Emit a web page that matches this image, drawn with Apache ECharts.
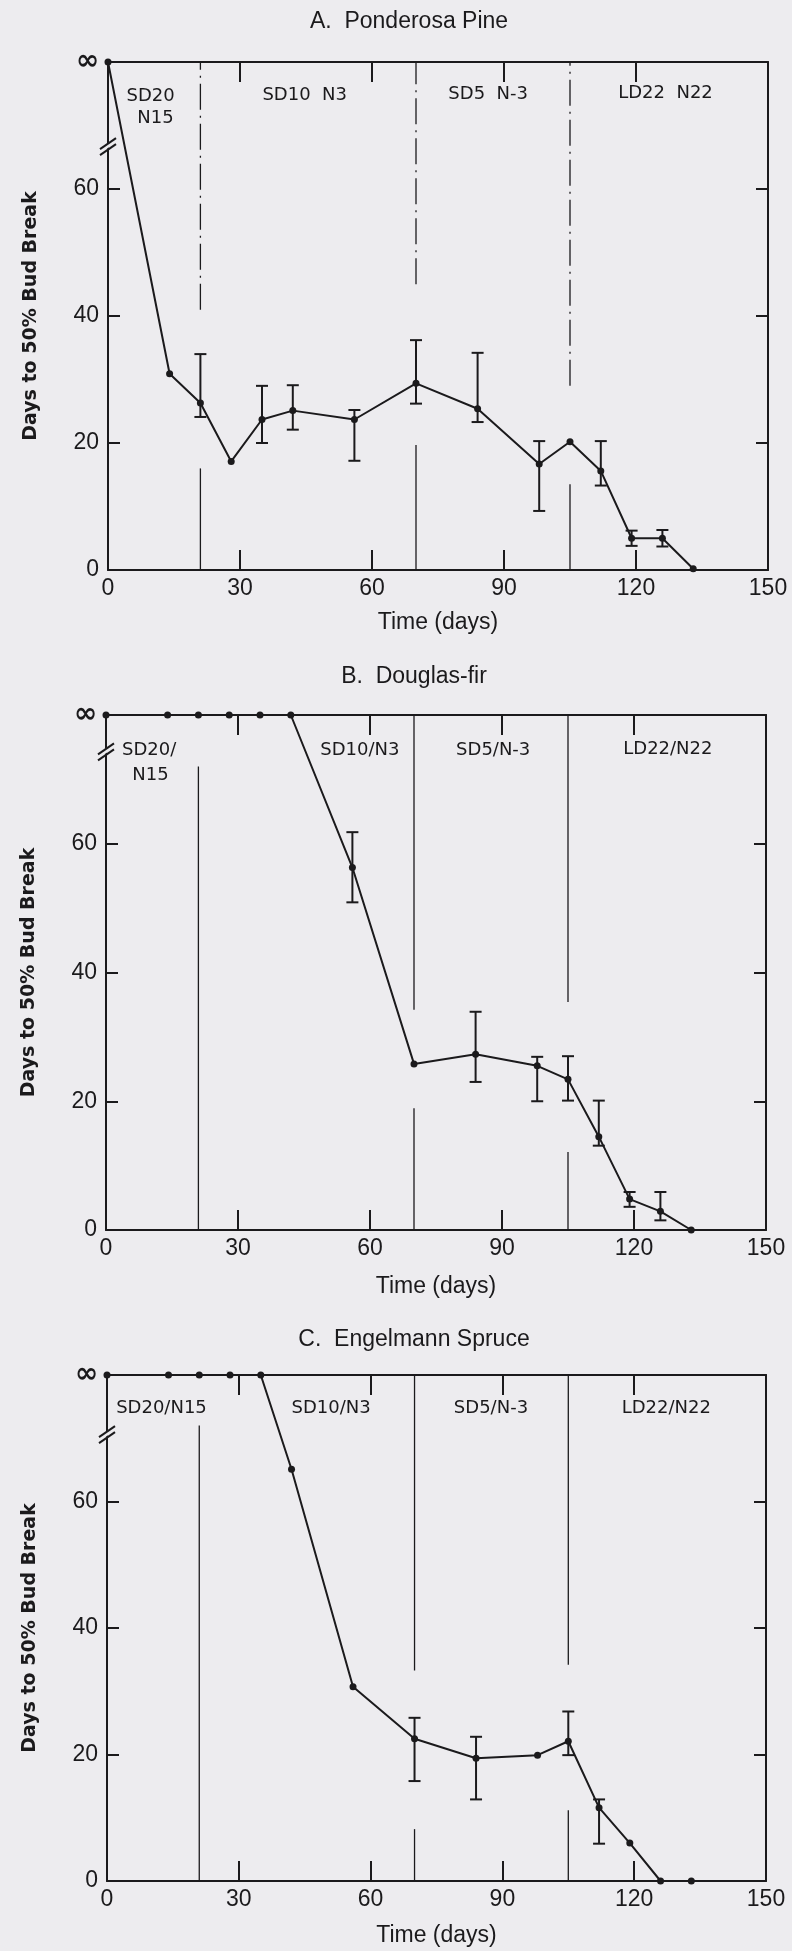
<!DOCTYPE html>
<html>
<head>
<meta charset="utf-8">
<title>Days to 50% bud break</title>
<script src="https://cdn.jsdelivr.net/npm/echarts@6/dist/echarts.min.js"></script>
<style>
  html, body { margin: 0; padding: 0; background: #edecef; }
  #chart { width: 792px; height: 1951px; }
</style>
</head>
<body>
<div id="chart"></div>
<script>
// "infinity" row at the top of each panel (no bud break)
var INF = 80;

var days = [0, 14, 21, 28, 35, 42, 56, 70, 84, 98, 105, 112, 119, 126, 133];
var xTicks = [0, 30, 60, 90, 120, 150];
var yTicks = [0, 20, 40, 60];

// A. Ponderosa Pine
var pineVals = [INF, 30.9, 26.3, 17.1, 23.7, 25.1, 23.7, 29.4, 25.4, 16.7, 20.2, 15.6, 5.0, 5.0, 0.2];
var pineLow  = [null, null, 24.1, null, 20.0, 22.1, 17.2, 26.2, 23.3, 9.3, null, 13.3, 3.8, 3.7, null];
var pineHigh = [null, null, 34.0, null, 29.0, 29.1, 25.2, 36.2, 34.2, 20.3, null, 20.3, 6.2, 6.3, null];

// B. Douglas-fir
var firVals = [INF, INF, INF, INF, INF, INF, 56.3, 25.8, 27.3, 25.5, 23.4, 14.5, 4.8, 2.9, 0];
var firLow  = [null, null, null, null, null, null, 50.9, null, 23.0, 20.0, 20.1, 13.1, 3.6, 1.5, null];
var firHigh = [null, null, null, null, null, null, 61.8, null, 33.9, 26.9, 27.0, 20.1, 5.9, 5.9, null];

// C. Engelmann Spruce
var spruceVals = [INF, INF, INF, INF, INF, 65.1, 30.7, 22.5, 19.4, 19.9, 22.1, 11.6, 6.0, 0, 0];
var spruceLow  = [null, null, null, null, null, null, null, 15.8, 12.9, null, 19.9, 5.9, null, null, null];
var spruceHigh = [null, null, null, null, null, null, null, 25.8, 22.8, null, 26.8, 12.9, null, null, null];

// treatment periods
var periodsA = ['SD20', 'N15', 'SD10  N3', 'SD5  N-3', 'LD22  N22'];
var periodsB = ['SD20/', 'N15', 'SD10/N3', 'SD5/N-3', 'LD22/N22'];
var periodsC = ['SD20/N15', 'SD10/N3', 'SD5/N-3', 'LD22/N22'];
var periodStarts = [21, 70, 105];

var titles = ['A.  Ponderosa Pine', 'B.  Douglas-fir', 'C.  Engelmann Spruce'];

// ---- layout (not data) ----
var INK = '#1b1a1c';
var BG = '#edecef';
var panels = [
  { title: titles[0], vals: pineVals, low: pineLow, high: pineHigh, labels: periodsA,
    grid: { left: 108, top: 62, width: 660, height: 508 }, titleXY: [409, 22], nameGap: 41,
    labelPos: [[9.7, 74.6], [10.8, 71.1], [44.7, 74.8], [86.4, 74.9], [126.7, 75.0]],
    breakAt: 66.6,
    // [index in periodStarts, from, to, dashed]
    dividers: [[0, 41, 80, true], [0, 0, 16, false], [1, 45, 80, true], [1, 0, 19.7, false],
               [2, 29, 80, true], [2, 0, 13.5, false]] },
  { title: titles[1], vals: firVals, low: firLow, high: firHigh, labels: periodsB,
    grid: { left: 106, top: 715, width: 660, height: 515 }, titleXY: [414, 677], nameGap: 45,
    labelPos: [[9.8, 74.5], [10.1, 70.7], [57.7, 74.5], [88, 74.5], [127.7, 74.7]],
    breakAt: 74.2,
    dividers: [[0, 0, 72, false], [1, 34.2, 80, false], [1, 0, 18.9, false],
               [2, 35.4, 80, false], [2, 0, 12.1, false]] },
  { title: titles[2], vals: spruceVals, low: spruceLow, high: spruceHigh, labels: periodsC,
    grid: { left: 107, top: 1375, width: 659, height: 506 }, titleXY: [414, 1340], nameGap: 43,
    labelPos: [[12.4, 74.8], [51, 74.8], [87.4, 74.8], [127.3, 74.8]],
    breakAt: 70.5,
    dividers: [[0, 0, 72, false], [1, 33.3, 80, false], [1, 0, 8.2, false],
               [2, 34.2, 80, false], [2, 0, 11.2, false]] }
];

var chart = echarts.init(document.getElementById('chart'));

var grids = [], xAxes = [], yAxes = [], series = [], graphics = [];

var tickFont = { fontFamily: 'Liberation Sans', fontSize: 23, color: INK };

panels.forEach(function (p, i) {
  grids.push(Object.assign({ containLabel: false }, p.grid));

  var xBase = {
    gridIndex: i, type: 'value', min: xTicks[0], max: xTicks[xTicks.length - 1],
    interval: xTicks[1] - xTicks[0],
    axisLine: { onZero: false, lineStyle: { color: INK, width: 2 } },
    axisTick: { inside: true, length: 20, lineStyle: { color: INK, width: 2 } },
    splitLine: { show: false }
  };
  xAxes.push(Object.assign({}, xBase, {
    position: 'bottom',
    axisLabel: Object.assign({ margin: 7 }, tickFont),
    name: 'Time (days)', nameLocation: 'middle', nameGap: p.nameGap,
    nameTextStyle: { fontFamily: 'Liberation Sans', fontSize: 23, color: INK }
  }));
  xAxes.push(Object.assign({}, xBase, { position: 'top', axisLabel: { show: false } }));

  var yBase = {
    gridIndex: i, type: 'value', min: 0, max: INF, interval: yTicks[1] - yTicks[0],
    axisLine: { onZero: false, lineStyle: { color: INK, width: 2 } },
    axisTick: { inside: true, length: 12, lineStyle: { color: INK, width: 2 } },
    splitLine: { show: false }
  };
  yAxes.push(Object.assign({}, yBase, {
    position: 'left',
    axisLabel: Object.assign({
      margin: 9,
      formatter: function (v) { return v === INF ? '{inf|∞}' : String(v); },
      rich: { inf: { fontFamily: 'DejaVu Sans', fontWeight: 'bold', fontSize: 28, color: INK } }
    }, tickFont),
    name: 'Days to 50% Bud Break', nameLocation: 'middle', nameGap: 67,
    nameTextStyle: { fontFamily: 'DejaVu Sans', fontWeight: 'bold', fontSize: 19, color: INK }
  }));
  yAxes.push(Object.assign({}, yBase, { position: 'right', axisLabel: { show: false } }));

  var xi = 2 * i, yi = 2 * i;

  // period divider lines
  [true, false].forEach(function (dashed) {
    series.push({
      type: 'custom', xAxisIndex: xi, yAxisIndex: yi, silent: true, z: 1,
      data: p.dividers.filter(function (d) { return d[3] === dashed; })
        .map(function (d) { return [periodStarts[d[0]], d[1], d[2]]; }),
      renderItem: function (params, api) {
        var a = api.coord([api.value(0), api.value(1)]);
        var b = api.coord([api.value(0), api.value(2)]);
        return { type: 'line', shape: { x1: a[0], y1: a[1], x2: b[0], y2: b[1] },
          style: { stroke: INK, lineWidth: 1.3, lineDash: dashed ? [26, 6, 2, 6] : null } };
      }
    });
  });

  // error bars
  var errData = [];
  days.forEach(function (d, k) {
    if (p.low[k] != null) errData.push([d, p.low[k], p.high[k]]);
  });
  series.push({
    type: 'custom', xAxisIndex: xi, yAxisIndex: yi, silent: true, z: 2,
    data: errData,
    renderItem: function (params, api) {
      var lo = api.coord([api.value(0), api.value(1)]);
      var hi = api.coord([api.value(0), api.value(2)]);
      var w = 6, st = { stroke: INK, lineWidth: 2 };
      return { type: 'group', children: [
        { type: 'line', shape: { x1: lo[0], y1: lo[1], x2: hi[0], y2: hi[1] }, style: st },
        { type: 'line', shape: { x1: lo[0] - w, y1: lo[1], x2: lo[0] + w, y2: lo[1] }, style: st },
        { type: 'line', shape: { x1: hi[0] - w, y1: hi[1], x2: hi[0] + w, y2: hi[1] }, style: st }
      ] };
    }
  });

  // mean days to bud break
  series.push({
    type: 'line', xAxisIndex: xi, yAxisIndex: yi, z: 3,
    data: days.map(function (d, k) { return [d, p.vals[k]]; }),
    symbol: 'circle', symbolSize: 7, clip: false,
    lineStyle: { color: INK, width: 2 }, itemStyle: { color: INK }
  });

  // period names
  series.push({
    type: 'custom', xAxisIndex: xi, yAxisIndex: yi, silent: true, z: 4,
    data: p.labelPos,
    renderItem: function (params, api) {
      var c = api.coord([api.value(0), api.value(1)]);
      return { type: 'text', x: c[0], y: c[1],
        style: { text: p.labels[params.dataIndex], align: 'center', verticalAlign: 'middle',
          fontFamily: 'DejaVu Sans', fontSize: 18, fill: INK } };
    }
  });

  // axis break mark on the left axis
  series.push({
    type: 'custom', xAxisIndex: xi, yAxisIndex: yi, silent: true, z: 5, clip: false,
    data: [[0, p.breakAt]],
    renderItem: function (params, api) {
      var c = api.coord([api.value(0), api.value(1)]);
      var st = { stroke: INK, lineWidth: 2 };
      return { type: 'group', children: [
        { type: 'polygon', shape: { points: [[c[0] - 7, c[1] + 6], [c[0] + 7, c[1] - 4],
            [c[0] + 7, c[1] - 9], [c[0] - 7, c[1] + 1]] }, style: { fill: BG } },
        { type: 'line', shape: { x1: c[0] - 8, y1: c[1] + 8, x2: c[0] + 8, y2: c[1] - 3 }, style: st },
        { type: 'line', shape: { x1: c[0] - 8, y1: c[1] + 2, x2: c[0] + 8, y2: c[1] - 9 }, style: st }
      ] };
    }
  });

  graphics.push({
    type: 'text', x: p.titleXY[0], y: p.titleXY[1],
    style: { text: p.title, align: 'center', verticalAlign: 'middle',
      fontFamily: 'Liberation Sans', fontSize: 23, fill: INK }
  });
});

chart.setOption({
  backgroundColor: BG,
  animation: false,
  grid: grids,
  xAxis: xAxes,
  yAxis: yAxes,
  series: series,
  graphic: graphics
});
</script>
</body>
</html>
